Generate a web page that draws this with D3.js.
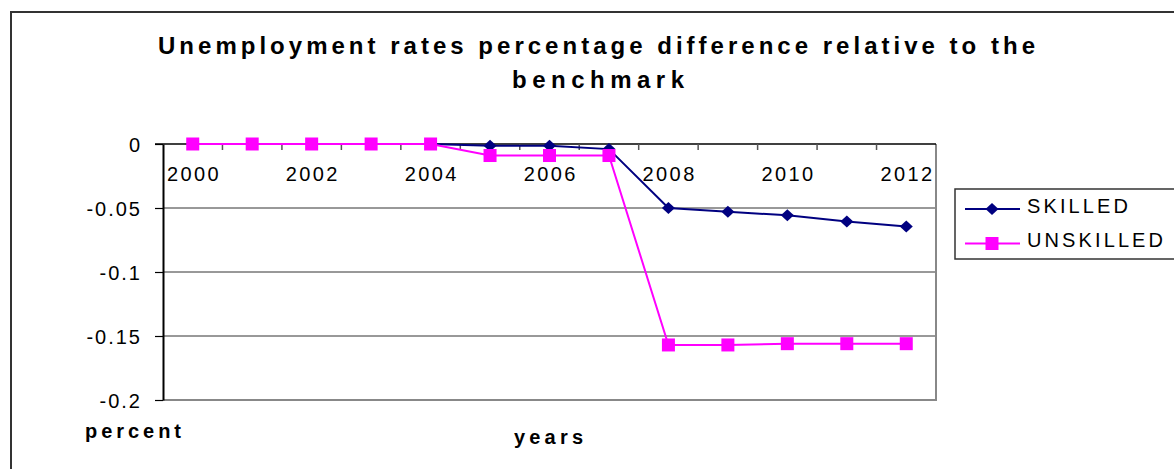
<!DOCTYPE html>
<html>
<head>
<meta charset="utf-8">
<script src="https://cdn.jsdelivr.net/npm/d3@7"></script>
<style>
  html, body { margin: 0; padding: 0; background: #fff; }
  svg { display: block; }
  text { font-family: "Liberation Sans", Arial, sans-serif; fill: #000; }
</style>
</head>
<body>
<svg id="chart" width="1174" height="469"></svg>
<script>
// Unemployment rate differences vs. benchmark, 2000-2012
const years = [2000, 2001, 2002, 2003, 2004, 2005, 2006, 2007, 2008, 2009, 2010, 2011, 2012];
const skilled = [0, 0, 0, 0, 0, -0.0013, -0.0013, -0.004, -0.05, -0.053, -0.0557, -0.0605, -0.0645];
const unskilled = [0, 0, 0, 0, 0, -0.009, -0.009, -0.009, -0.157, -0.157, -0.156, -0.156, -0.156];
const yTicks = [0, -0.05, -0.1, -0.15, -0.2];
const yTickLabels = ["0", "-0.05", "-0.1", "-0.15", "-0.2"];
const xTickLabels = years.filter(y => y % 2 === 0);
const seriesNames = ["SKILLED", "UNSKILLED"];

const svg = d3.select("#chart");

const plot = { left: 163, right: 936, top: 144, bottom: 400 };

const x = d3.scaleBand().domain(years).range([plot.left, plot.right]).padding(0);
const y = d3.scaleLinear().domain([-0.2, 0]).range([plot.bottom, plot.top]);
const cx = d => x(d) + x.bandwidth() / 2;

// outer frame
svg.append("path")
  .attr("d", "M11,480 L11,12 L1180,12")
  .attr("fill", "none").attr("stroke", "#333").attr("stroke-width", 2);

// title, spread to the frame width with textLength
svg.append("text")
  .attr("x", 158).attr("y", 54)
  .attr("font-weight", "bold").attr("font-size", 24)
  .attr("textLength", 877).attr("lengthAdjust", "spacing")
  .text("Unemployment rates percentage difference relative to the");
svg.append("text")
  .attr("x", 512).attr("y", 88)
  .attr("font-weight", "bold").attr("font-size", 24)
  .attr("textLength", 172).attr("lengthAdjust", "spacing")
  .text("benchmark");

// horizontal gridlines
svg.append("g").selectAll("line")
  .data(yTicks.filter(v => v !== 0 && v !== -0.2))
  .join("line")
  .attr("x1", plot.left).attr("x2", plot.right)
  .attr("y1", d => y(d)).attr("y2", d => y(d))
  .attr("stroke", "#333").attr("stroke-width", 1);

// plot frame (right and bottom)
svg.append("path")
  .attr("d", `M${plot.left},${y(-0.2)} L${plot.right},${y(-0.2)} L${plot.right},${plot.top}`)
  .attr("fill", "none").attr("stroke", "#888").attr("stroke-width", 2);

// y axis
const yAxis = d3.axisLeft(y)
  .tickValues(yTicks)
  .tickFormat((d, i) => yTickLabels[i])
  .tickSizeInner(8).tickSizeOuter(0).tickPadding(15);
const gy = svg.append("g").attr("transform", `translate(${plot.left},0)`).call(yAxis);
gy.select(".domain").attr("stroke", "#000").attr("stroke-width", 2);
gy.selectAll(".tick line").attr("stroke", "#000").attr("stroke-width", 1.2);
gy.selectAll(".tick text")
  .attr("font-family", "'Liberation Sans', Arial, sans-serif")
  .attr("font-size", 20).attr("letter-spacing", 2).attr("dx", 2).attr("dy", "0.36em").attr("fill", "#000");

// x axis along y = 0, ticks at category boundaries pointing down
const gx = svg.append("g");
gx.append("line")
  .attr("x1", plot.left - 8).attr("x2", plot.right)
  .attr("y1", y(0)).attr("y2", y(0))
  .attr("stroke", "#000").attr("stroke-width", 1.5);
gx.selectAll("line.bt")
  .data(years.slice(1))
  .join("line").attr("class", "bt")
  .attr("x1", d => x(d)).attr("x2", d => x(d))
  .attr("y1", y(0)).attr("y2", y(0) + 6)
  .attr("stroke", "#555").attr("stroke-width", 1.5);
gx.selectAll("text")
  .data(xTickLabels)
  .join("text")
  .attr("x", d => cx(d) + 1.2)
  .attr("y", y(0) + 37)
  .attr("text-anchor", "middle")
  .attr("font-size", 20)
  .attr("letter-spacing", 2.4)
  .text(d => d);

// series
const series = [
  { name: seriesNames[0], values: skilled, color: "#000080", shape: "diamond" },
  { name: seriesNames[1], values: unskilled, color: "#FF00FF", shape: "square" }
];
const line = d3.line().x((d, i) => cx(years[i])).y(d => y(d));

function marker(sel, s, px, py) {
  if (s.shape === "diamond") {
    sel.append("path")
      .attr("d", `M${px},${py - 6} L${px + 6.5},${py} L${px},${py + 6} L${px - 6.5},${py} Z`)
      .attr("fill", s.color);
  } else {
    sel.append("rect")
      .attr("x", px - 6.5).attr("y", py - 6.5).attr("width", 13).attr("height", 13)
      .attr("fill", s.color);
  }
}

series.forEach(s => {
  const g = svg.append("g");
  g.append("path").datum(s.values)
    .attr("d", line)
    .attr("fill", "none").attr("stroke", s.color).attr("stroke-width", 2);
  s.values.forEach((v, i) => marker(g, s, cx(years[i]), y(v)));
});

// legend
const legendWidths = [101, 136];
const lg = svg.append("g");
lg.append("rect")
  .attr("x", 955).attr("y", 189).attr("width", 260).attr("height", 70)
  .attr("fill", "#fff").attr("stroke", "#333").attr("stroke-width", 1.5);
series.forEach((s, i) => {
  const ly = 209 + i * 34.5;
  lg.append("line").attr("x1", 965).attr("x2", 1020).attr("y1", ly).attr("y2", ly)
    .attr("stroke", s.color).attr("stroke-width", 2);
  marker(lg, s, 992, ly);
  lg.append("text").attr("x", 1027).attr("y", ly + 3.5)
    .attr("font-size", 20)
    .attr("textLength", legendWidths[i]).attr("lengthAdjust", "spacing")
    .text(s.name);
});

// axis titles
svg.append("text").attr("x", 85).attr("y", 438)
  .attr("font-weight", "bold").attr("font-size", 20)
  .attr("textLength", 96).attr("lengthAdjust", "spacing")
  .text("percent");
svg.append("text").attr("x", 514).attr("y", 444)
  .attr("font-weight", "bold").attr("font-size", 20)
  .attr("textLength", 69).attr("lengthAdjust", "spacing")
  .text("years");
</script>
</body>
</html>
